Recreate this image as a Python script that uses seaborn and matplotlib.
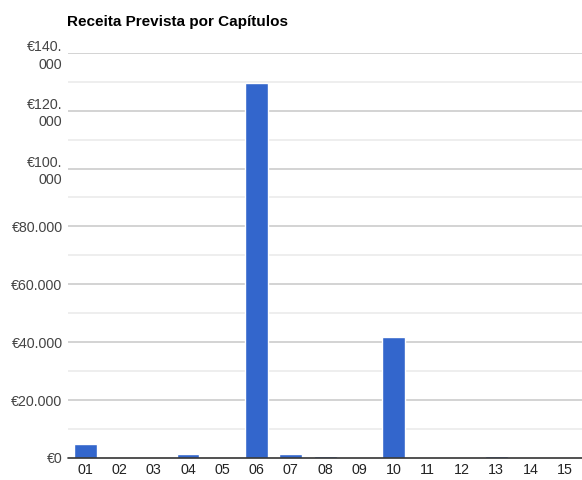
import seaborn as sns
import matplotlib.pyplot as plt
import pandas as pd

# capítulos e receita prevista
capitulos = ['01', '02', '03', '04', '05', '06', '07', '08', '09', '10', '11', '12', '13', '14', '15']
receita = [4750, 0, 0, 1500, 0, 129500, 1500, 800, 0, 41800, 0, 0, 800, 0, 0]
yticks = [0, 20000, 40000, 60000, 80000, 100000, 120000, 140000]
ytick_labels = ['€0', '€20.000', '€40.000', '€60.000', '€80.000', '€100.\n000', '€120.\n000', '€140.\n000']

df = pd.DataFrame({'capitulo': capitulos, 'receita': receita})

sns.set_style('white')
plt.rcParams['font.family'] = ['Liberation Sans', 'DejaVu Sans']

fig = plt.figure(figsize=(5.82, 4.8), dpi=100)
ax = fig.add_axes([0.117, 0.046, 0.883, 0.844])

sns.barplot(data=df, x='capitulo', y='receita', color='#3366cc', width=0.67, saturation=1, ax=ax)

ax.set_ylim(0, 140000)
ax.set_xlim(-0.5, 14.5)
for v in range(10000, 140001, 10000):
    ax.axhline(v, color='#cccccc' if v % 20000 == 0 else '#ebebeb', lw=1.2, zorder=0)
ax.axhline(0, color='#333333', lw=1.2, zorder=3, clip_on=False)

ax.set_yticks(yticks)
ax.set_yticklabels(ytick_labels, fontsize=10.3, color='#444444', linespacing=1.3)
ax.tick_params(axis='x', labelsize=10.3, labelcolor='#222222', length=0, pad=4)
ax.tick_params(axis='y', length=0, pad=4)
for s in ax.spines.values():
    s.set_visible(False)
ax.set_xlabel('')
ax.set_ylabel('')

fig.text(0.115, 0.955, 'Receita Prevista por Capítulos', fontsize=11, fontweight='bold', color='#000000', va='center')

fig.savefig('out.png', dpi=100)
